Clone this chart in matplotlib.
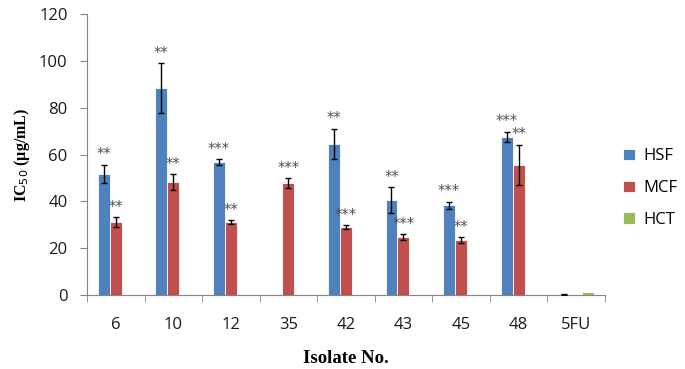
import numpy as np
import matplotlib
matplotlib.use("Agg")
import matplotlib.pyplot as plt

isolates = ["6", "10", "12", "35", "42", "43", "45", "48", "5FU"]
hsf = [51.7, 88.4, 56.8, np.nan, 64.5, 40.6, 38.4, 67.5, 0.3]
hsf_err = [4.0, 10.5, 1.3, np.nan, 6.6, 5.4, 1.5, 2.3, 0.2]
mcf = [31.2, 48.2, 31.2, 47.8, 29.0, 24.8, 23.5, 55.5, np.nan]
mcf_err = [2.0, 3.5, 0.8, 2.0, 1.0, 1.2, 1.3, 8.7, np.nan]
hct = [np.nan] * 8 + [1.2]
hsf_sig = ["**", "**", "***", "", "**", "**", "***", "***", ""]
mcf_sig = ["**", "**", "**", "***", "***", "***", "**", "**", ""]

colors = {"HSF": "#4F81BD", "MCF": "#C0504D", "HCT": "#9BBB59"}

fig = plt.figure(figsize=(6.85, 3.69), dpi=100)
ax = fig.add_axes([0.127, 0.2005, 0.756, 0.7615])

x = np.arange(len(isolates))
w = 0.208
series = [("HSF", hsf, hsf_err, hsf_sig, -w),
          ("MCF", mcf, mcf_err, mcf_sig, 0.0),
          ("HCT", hct, None, None, w)]

for name, vals, err, sig, off in series:
    ax.bar(x + off, vals, w, color=colors[name], edgecolor="white",
           linewidth=0.6, label=name, zorder=2)
    if err is not None:
        ax.errorbar(x + off, vals, yerr=err, fmt="none", ecolor="black",
                    elinewidth=1, capsize=2.5, capthick=1, zorder=3)
        for xi, v, e, s in zip(x + off, vals, err, sig):
            if s and not np.isnan(v):
                ax.annotate(s, (xi, v + e), xytext=(0, 7), textcoords="offset points",
                            ha="center", va="center", fontsize=10.5, color="#505050")

ax.set_xlim(-0.5, len(isolates) - 0.5)
ax.set_ylim(0, 120)
ax.set_yticks(range(0, 121, 20))
ax.set_xticks(x)
ax.set_xticklabels(isolates)
ax.set_xticks(np.arange(-0.5, len(isolates)), minor=True)
ax.tick_params(axis="x", which="major", length=0, pad=16, labelsize=12)
ax.tick_params(axis="x", which="minor", length=5, color="#868686")
ax.tick_params(axis="y", length=5, color="#868686", labelsize=12, pad=9)
for lab in ax.get_xticklabels() + ax.get_yticklabels():
    lab.set_fontfamily("Open Sans")
    lab.set_color("#1a1a1a")

for side in ["top", "right"]:
    ax.spines[side].set_visible(False)
for side in ["left", "bottom"]:
    ax.spines[side].set_color("#868686")

ax.set_ylabel("IC$_{50}$ (µg/mL)", fontfamily="Liberation Serif", fontweight="bold",
              fontsize=11.5, labelpad=5)
ax.set_xlabel("Isolate No.", fontfamily="Liberation Serif", fontweight="bold",
              fontsize=13.5, labelpad=12)

leg = fig.legend(loc="center left", bbox_to_anchor=(0.888, 0.49), frameon=False,
                 handlelength=0.7, handleheight=0.7, handletextpad=0.5,
                 labelspacing=0.95, prop={"family": "Open Sans", "size": 12})

fig.savefig("out.png", dpi=100)
